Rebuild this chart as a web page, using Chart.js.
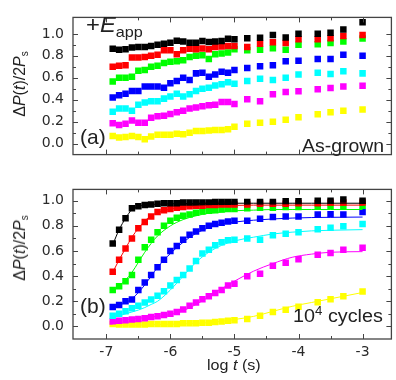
<!DOCTYPE html>
<html><head><meta charset="utf-8">
<script src="https://cdn.jsdelivr.net/npm/chart.js@4/dist/chart.umd.min.js"></script>
<style>
html,body{margin:0;padding:0;background:#fff;}
#wrap{position:relative;width:396px;height:380px;overflow:hidden;font-family:"Liberation Sans",Arial,sans-serif;color:#222;}
canvas{position:absolute;left:0;}
.t{position:absolute;white-space:nowrap;line-height:1;z-index:2;transform-origin:0 0;}
.yt{position:absolute;white-space:nowrap;line-height:1;z-index:2;font-size:16px;}
</style></head><body>
<div id="wrap">
<canvas id="c1" width="396" height="172" style="top:0;width:396px;height:172px"></canvas>
<canvas id="c2" width="396" height="208" style="top:172px;width:396px;height:208px"></canvas>
<div class="t" style="left:86px;top:14px;font-size:22px;transform:scaleX(1.08)">+<i>E</i><span style="font-size:15px;position:relative;top:5px">app</span></div>
<div class="t" style="left:80px;top:126px;font-size:21px">(a)</div>
<div class="t" style="left:302px;top:137px;font-size:18px;transform:scaleX(1.08)">As-grown</div>
<div class="t" style="left:80px;top:295px;font-size:21px">(b)</div>
<div class="t" style="left:293px;top:307px;font-size:18px;transform:scaleX(1.1)">10<span style="font-size:12px;position:relative;top:-7px">4</span> cycles</div>
<div class="t" style="left:207px;top:358px;font-size:14px;transform:scaleX(1.15)">log <i>t</i> (s)</div>
<div class="yt" style="left:20px;top:84px;transform:translate(-50%,-50%) rotate(-90deg)">&Delta;<i>P</i>(<i>t</i>)/2<i>P</i><span style="font-size:10px;position:relative;top:3px">s</span></div>
<div class="yt" style="left:20px;top:248px;transform:translate(-50%,-50%) rotate(-90deg)">&Delta;<i>P</i>(<i>t</i>)/2<i>P</i><span style="font-size:10px;position:relative;top:3px">s</span></div>
</div>
<script>
// ---- data ----
const logT = [-6.9,-6.8,-6.7,-6.6,-6.5,-6.4,-6.3,-6.2,-6.1,-6.0,-5.9,-5.8,-5.7,-5.6,-5.5,-5.4,-5.3,-5.2,-5.1,-5.0,-4.8,-4.6,-4.4,-4.2,-4.0,-3.7,-3.5,-3.3,-3.0];
const xTickVals = [-7,-6,-5,-4,-3];
const yTickVals = [0,0.2,0.4,0.6,0.8,1.0];

// (a) As-grown
const asBlack   = [0.865,0.855,0.86,0.875,0.88,0.88,0.89,0.90,0.91,0.92,0.937,0.93,0.92,0.92,0.935,0.925,0.93,0.935,0.955,0.95,0.96,0.965,0.99,0.967,1.0,1.0,1.01,1.04,1.105];
const asRed     = [0.70,0.71,0.715,0.785,0.785,0.79,0.80,0.81,0.85,0.85,0.815,0.85,0.865,0.86,0.866,0.86,0.88,0.886,0.89,0.89,0.88,0.91,0.924,0.917,0.95,0.95,0.96,0.98,0.99];
const asGreen   = [0.565,0.60,0.60,0.61,0.665,0.67,0.70,0.71,0.735,0.745,0.75,0.76,0.79,0.80,0.805,0.77,0.815,0.82,0.83,0.86,0.85,0.855,0.87,0.855,0.90,0.905,0.917,0.93,0.957];
const asBlue    = [0.42,0.44,0.455,0.48,0.48,0.52,0.52,0.52,0.51,0.55,0.57,0.60,0.58,0.64,0.645,0.61,0.63,0.655,0.645,0.67,0.69,0.705,0.715,0.75,0.755,0.77,0.77,0.81,0.80];
const asCyan    = [0.29,0.32,0.32,0.30,0.355,0.375,0.385,0.385,0.41,0.43,0.455,0.43,0.45,0.48,0.50,0.51,0.53,0.54,0.56,0.545,0.57,0.59,0.58,0.60,0.63,0.645,0.635,0.66,0.64];
const asMagenta = [0.185,0.17,0.18,0.21,0.19,0.19,0.235,0.25,0.255,0.27,0.285,0.30,0.32,0.33,0.34,0.35,0.355,0.38,0.38,0.36,0.405,0.385,0.45,0.47,0.477,0.495,0.507,0.52,0.528];
const asYellow  = [0.07,0.055,0.06,0.07,0.06,0.04,0.065,0.08,0.08,0.08,0.09,0.085,0.10,0.115,0.115,0.12,0.124,0.124,0.13,0.154,0.18,0.19,0.20,0.217,0.24,0.267,0.285,0.30,0.31];

// (b) 10^4 cycles, measured points
const cyBlack   = [0.66,0.77,0.86,0.94,0.955,0.965,0.97,0.975,0.98,0.98,0.98,0.985,0.985,0.985,0.985,0.985,0.99,0.99,0.99,0.99,0.99,0.99,0.99,0.995,0.995,1.0,1.0,1.01,1.0];
const cyRed     = [0.435,0.53,0.62,0.70,0.78,0.83,0.875,0.91,0.925,0.935,0.945,0.95,0.955,0.96,0.96,0.965,0.965,0.97,0.97,0.97,0.97,0.975,0.975,0.975,0.98,0.98,0.985,0.985,0.985];
const cyGreen   = [0.29,0.32,0.36,0.41,0.53,0.63,0.69,0.75,0.80,0.84,0.865,0.88,0.89,0.905,0.915,0.92,0.925,0.93,0.935,0.935,0.94,0.945,0.945,0.95,0.95,0.955,0.955,0.955,0.96];
const cyBlue    = [0.155,0.17,0.20,0.215,0.29,0.35,0.41,0.47,0.53,0.60,0.64,0.69,0.73,0.755,0.78,0.80,0.815,0.825,0.835,0.84,0.84,0.857,0.87,0.875,0.875,0.89,0.893,0.89,0.91];
const cyCyan    = [0.085,0.10,0.12,0.145,0.165,0.19,0.215,0.245,0.28,0.325,0.37,0.41,0.46,0.52,0.58,0.61,0.645,0.67,0.685,0.69,0.70,0.69,0.725,0.737,0.75,0.773,0.785,0.797,0.814];
const cyMagenta = [0.04,0.045,0.05,0.055,0.06,0.065,0.075,0.08,0.09,0.10,0.115,0.135,0.165,0.19,0.217,0.24,0.266,0.29,0.325,0.34,0.40,0.42,0.483,0.507,0.535,0.57,0.585,0.61,0.625];
const cyYellow  = [0.02,0.015,0.015,0.015,0.015,0.015,0.02,0.02,0.02,0.02,0.02,0.025,0.025,0.025,0.03,0.03,0.035,0.04,0.045,0.05,0.06,0.085,0.114,0.133,0.157,0.193,0.217,0.24,0.277];

// (b) fitted curves
const fitT       = [-6.9,-6.8,-6.7,-6.6,-6.5,-6.4,-6.3,-6.2,-6.0,-5.8,-5.6,-5.4,-5.2,-5.0,-4.7,-4.4,-4.1,-3.8,-3.5,-3.0];
const fitBlack   = [0.65,0.77,0.86,0.93,0.955,0.965,0.97,0.972,0.975,0.977,0.978,0.98,0.98,0.98,0.98,0.98,0.98,0.98,0.98,0.98];
const fitRed     = [0.43,0.53,0.62,0.71,0.78,0.84,0.88,0.905,0.935,0.95,0.955,0.96,0.96,0.963,0.965,0.965,0.965,0.965,0.965,0.965];
const fitGreen   = [0.28,0.32,0.37,0.43,0.51,0.59,0.66,0.72,0.80,0.85,0.88,0.90,0.91,0.92,0.925,0.93,0.93,0.93,0.93,0.93];
const fitBlue    = [0.15,0.17,0.19,0.22,0.27,0.33,0.40,0.47,0.58,0.67,0.74,0.785,0.815,0.83,0.845,0.855,0.862,0.866,0.868,0.87];
const fitCyan    = [0.075,0.085,0.10,0.115,0.13,0.15,0.175,0.20,0.29,0.40,0.51,0.59,0.645,0.68,0.71,0.735,0.75,0.76,0.765,0.77];
const fitMagenta = [0.05,0.05,0.055,0.06,0.065,0.07,0.075,0.08,0.095,0.125,0.175,0.235,0.30,0.36,0.44,0.50,0.55,0.575,0.59,0.595];
const fitYellow  = [0.01,0.01,0.01,0.01,0.01,0.012,0.013,0.015,0.017,0.02,0.025,0.03,0.04,0.055,0.08,0.12,0.16,0.19,0.22,0.27];

const colors = ['#000000','#ff0000','#00ff00','#0000ff','#00ffff','#ff00ff','#ffff00'];

// ---- helpers ----
const pts = (xs, ys) => xs.map((x, i) => ({x, y: ys[i]}));
const scatterSet = (ys, c) => ({type:'scatter', data: pts(logT, ys), pointStyle:'rect', pointRadius:4.6, pointBorderWidth:0, backgroundColor:c, borderColor:c, showLine:false});
const fitSet = (ys, c) => ({type:'line', data: pts(fitT, ys), pointRadius:0, borderColor:c, borderWidth:1, cubicInterpolationMode:'monotone', fill:false});

const framePlugin = {
  id:'frame',
  afterDatasetsDraw(chart){
    const {ctx, chartArea:a, scales:{x, y}} = chart;
    ctx.save();
    ctx.strokeStyle = '#444'; ctx.lineWidth = 1.3;
    ctx.strokeRect(a.left, a.top, a.right - a.left, a.bottom - a.top);
    ctx.lineWidth = 1;
    ctx.beginPath();
    const xt = (v, len) => { const p = Math.round(x.getPixelForValue(v)) + 0.5; ctx.moveTo(p, a.bottom); ctx.lineTo(p, a.bottom - len); ctx.moveTo(p, a.top); ctx.lineTo(p, a.top + len); };
    const yt = (v, len) => { const p = Math.round(y.getPixelForValue(v)) + 0.5; ctx.moveTo(a.left, p); ctx.lineTo(a.left + len, p); ctx.moveTo(a.right, p); ctx.lineTo(a.right - len, p); };
    xTickVals.forEach(v => xt(v, 5));
    xTickVals.slice(0, -1).forEach(v => xt(v + 0.5, 3));
    yTickVals.forEach(v => yt(v, 5));
    yTickVals.slice(0, -1).forEach(v => yt(v + 0.1, 3));
    ctx.stroke();
    ctx.restore();
  }
};

const tickFont = {family:'"DejaVu Sans"', size:14};
function makeOptions(ymax, showX, pad){
  return {
    responsive:false, animation:false, devicePixelRatio:1,
    layout:{padding:pad},
    plugins:{legend:{display:false}, tooltip:{enabled:false}},
    scales:{
      x:{type:'linear', min:-7.52, max:-2.55,
         afterBuildTicks(s){ s.ticks = xTickVals.map(v => ({value:v})); },
         afterFit(s){ s.height = showX ? 41 : 0; },
         ticks:{display:showX, font:tickFont, color:'#2a2a2a', padding:5, maxRotation:0, callback:v => String(v)},
         grid:{display:false, drawTicks:false}, border:{display:false}},
      y:{min:-0.1, max:ymax,
         afterBuildTicks(s){ s.ticks = yTickVals.map(v => ({value:v})); },
         afterFit(s){ s.width = 73; },
         ticks:{font:tickFont, color:'#2a2a2a', padding:9, callback:v => Number(v).toFixed(1)},
         grid:{display:false, drawTicks:false}, border:{display:false}}
    }
  };
}

const topSeries = [asBlack, asRed, asGreen, asBlue, asCyan, asMagenta, asYellow];
new Chart(document.getElementById('c1'), {
  type:'scatter',
  data:{datasets: topSeries.map((ys, i) => scatterSet(ys, colors[i]))},
  options: makeOptions(1.15, false, {left:0, right:2, top:5, bottom:2}),
  plugins:[framePlugin]
});

const botSeries = [cyBlack, cyRed, cyGreen, cyBlue, cyCyan, cyMagenta, cyYellow];
const botFits = [fitBlack, fitRed, fitGreen, fitBlue, fitCyan, fitMagenta, fitYellow];
new Chart(document.getElementById('c2'), {
  type:'scatter',
  data:{datasets: botFits.map((ys, i) => fitSet(ys, colors[i])).concat(botSeries.map((ys, i) => scatterSet(ys, colors[i])))},
  options: makeOptions(1.09, true, {left:0, right:2, top:3, bottom:0}),
  plugins:[framePlugin]
});
</script>
</body></html>
